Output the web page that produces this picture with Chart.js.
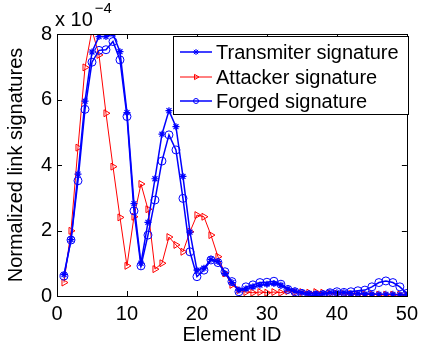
<!DOCTYPE html>
<html><head><meta charset="utf-8">
<script src="https://cdn.jsdelivr.net/npm/chart.js@4"></script>
<style>html,body{margin:0;padding:0;background:#fff}canvas{display:block}</style>
</head><body>
<canvas id="c" width="424" height="345"></canvas>
<script>
// Element IDs (x categories)
const elementIds = [1,2,3,4,5,6,7,8,9,10,11,12,13,14,15,16,17,18,19,20,21,22,23,24,25,26,27,28,29,30,31,32,33,34,35,36,37,38,39,40,41,42,43,44,45,46,47,48,49,50];
// Values in units of 1e-4
const transmiter = [0.65,1.72,3.72,5.95,7.45,7.92,7.92,8.0,7.46,5.6,2.82,1.0,2.25,3.58,4.94,5.66,5.17,3.65,1.95,0.79,0.85,1.12,1.05,0.69,0.41,0.18,0.22,0.28,0.33,0.36,0.38,0.33,0.22,0.15,0.1,0.08,0.07,0.08,0.1,0.1,0.1,0.08,0.07,0.06,0.06,0.05,0.05,0.05,0.04,0.03];
const attacker = [0.41,1.99,4.53,6.98,8.12,7.36,5.58,3.95,2.4,0.92,2.42,3.42,2.65,0.82,1.0,1.8,1.56,1.35,1.96,2.47,2.42,1.86,1.2,0.69,0.34,0.18,0.12,0.1,0.12,0.1,0.12,0.1,0.15,0.12,0.12,0.1,0.12,0.1,0.08,0.07,0.06,0.06,0.05,0.05,0.05,0.04,0.04,0.04,0.04,0.03];
const forged = [0.61,1.71,3.52,5.7,7.14,7.5,7.52,7.77,7.21,5.48,2.6,0.92,1.86,2.93,4.12,4.92,4.46,2.98,1.35,0.59,0.79,1.1,1.02,0.74,0.44,0.13,0.28,0.34,0.41,0.42,0.45,0.36,0.2,0.13,0.08,0.03,0.02,0.04,0.1,0.13,0.11,0.13,0.16,0.18,0.28,0.41,0.46,0.41,0.28,0.08];
const xTicks = [0,10,20,30,40,50];
const yTicks = [0,2,4,6,8];
const seriesNames = ['Transmiter signature','Attacker signature','Forged signature'];
const xTitle = 'Element ID';
const yTitle = 'Normalized link signatures';
const exponentBase = 'x 10';
const exponentPower = '\u22124';

const FONT = 'Liberation Sans, Arial, Helvetica, sans-serif';
const BLUE = '#0000ff', RED = '#ff0000', NONE = 'rgba(0,0,0,0)';

function pts(arr){ return elementIds.map((x,i)=>({x:x,y:arr[i]})); }

const datasets = [
  {label: seriesNames[0], data: pts(transmiter), borderColor: BLUE, backgroundColor: BLUE, borderWidth: 1.5,
   pointStyle: 'star', pointRadius: 3.5, pointBorderColor: BLUE, pointBorderWidth: 1.2, order: 1},
  {label: seriesNames[1], data: pts(attacker), borderColor: RED, backgroundColor: NONE, borderWidth: 1,
   pointStyle: 'triangle', pointRotation: 90, pointRadius: 4, pointBorderColor: RED, pointBackgroundColor: NONE, pointBorderWidth: 1, order: 2},
  {label: seriesNames[2], data: pts(forged), borderColor: BLUE, backgroundColor: NONE, borderWidth: 1.5,
   pointStyle: 'circle', pointRadius: 4, pointBorderColor: BLUE, pointBackgroundColor: NONE, pointBorderWidth: 1, order: 0}
];

const frame = {
  id: 'frame',
  afterDraw(chart){
    const ctx = chart.ctx, a = chart.chartArea;
    const xs = chart.scales.x, ys = chart.scales.y;
    ctx.save();
    ctx.strokeStyle = '#000'; ctx.lineWidth = 1;
    ctx.strokeRect(Math.round(a.left)+0.5, Math.round(a.top)+0.5, Math.round(a.right-a.left), Math.round(a.bottom-a.top));
    const L = 5;
    ctx.beginPath();
    xTicks.forEach(v=>{ const px = Math.round(xs.getPixelForValue(v))+0.5;
      ctx.moveTo(px, a.bottom); ctx.lineTo(px, a.bottom-L);
      ctx.moveTo(px, a.top); ctx.lineTo(px, a.top+L); });
    yTicks.forEach(v=>{ const py = Math.round(ys.getPixelForValue(v))+0.5;
      ctx.moveTo(a.left, py); ctx.lineTo(a.left+L, py);
      ctx.moveTo(a.right, py); ctx.lineTo(a.right-L, py); });
    ctx.stroke();
    // exponent label
    ctx.fillStyle = '#000'; ctx.textBaseline = 'alphabetic'; ctx.textAlign = 'left';
    ctx.font = '20px ' + FONT;
    ctx.fillText(exponentBase, 55, 26);
    const w = ctx.measureText(exponentBase).width;
    ctx.font = '15px ' + FONT;
    ctx.fillText(exponentPower, 55 + w + 2, 13);
    // legend
    const bx = 173.5, by = 36.5, bw = 235, bh = 78;
    ctx.fillStyle = '#fff'; ctx.fillRect(bx, by, bw, bh);
    ctx.strokeStyle = '#000'; ctx.lineWidth = 1; ctx.strokeRect(bx, by, bw, bh);
    const rows = [52, 77, 101];
    chart.data.datasets.forEach((ds, i) => {
      const y = rows[i];
      ctx.strokeStyle = ds.borderColor; ctx.lineWidth = ds.borderWidth;
      ctx.beginPath(); ctx.moveTo(180, y); ctx.lineTo(212, y); ctx.stroke();
      ctx.strokeStyle = ds.borderColor; ctx.fillStyle = NONE; ctx.lineWidth = 1;
      Chart.helpers.drawPoint(ctx, {pointStyle: ds.pointStyle, rotation: ds.pointRotation || 0, radius: ds.pointStyle==='circle'?2.5:3, borderWidth: 1}, 196, y);
      ctx.fillStyle = '#000'; ctx.font = '20px ' + FONT; ctx.textBaseline = 'middle';
      ctx.fillText(ds.label, 216, y + 1);
    });
    ctx.restore();
  }
};

new Chart(document.getElementById('c'), {
  type: 'line',
  data: { datasets },
  options: {
    responsive: false, animation: false,
    layout: { padding: { top: 34, right: 15, left: 0, bottom: 0 } },
    plugins: { legend: { display: false }, tooltip: { enabled: false } },
    scales: {
      x: { type: 'linear', min: 0, max: 50,
           afterBuildTicks: s => { s.ticks = xTicks.map(v=>({value:v})); },
           afterFit: s => { s.height = 49; },
           grid: { display: false, drawTicks: false }, border: { display: false },
           ticks: { color: '#000', font: { family: FONT, size: 20 }, padding: 6, maxRotation: 0 },
           title: { display: true, text: xTitle, color: '#000', font: { family: FONT, size: 20 }, padding: { top: 0, bottom: -2 } } },
      y: { min: 0, max: 8,
           afterBuildTicks: s => { s.ticks = yTicks.map(v=>({value:v})); },
           afterFit: s => { s.width = 57; },
           grid: { display: false, drawTicks: false }, border: { display: false },
           ticks: { color: '#000', font: { family: FONT, size: 20 }, padding: 5 },
           title: { display: true, text: yTitle, color: '#000', font: { family: FONT, size: 20 }, padding: { top: 4, bottom: 0 } } }
    }
  },
  plugins: [frame]
});
</script>
</body></html>
